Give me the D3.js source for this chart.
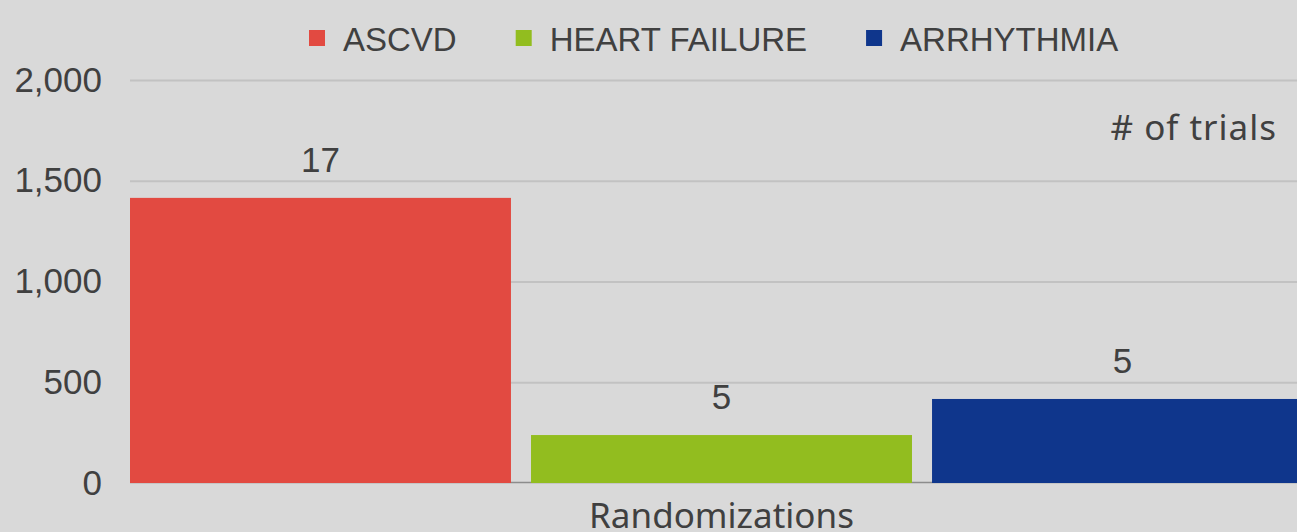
<!DOCTYPE html>
<html>
<head>
<meta charset="utf-8">
<script src="https://cdn.jsdelivr.net/npm/d3@7"></script>
<style>
  html, body { margin: 0; padding: 0; background: #d9d9d9; overflow: hidden; }
  text { fill: #404040; }
</style>
</head>
<body>
<div id="chart"></div>
<script>
const categories = ['Randomizations'];
const series = ['ASCVD', 'HEART FAILURE', 'ARRHYTHMIA'];
const values = [1415, 238, 417];
const trialCounts = ['17', '5', '5'];
const yTicks = [0, 500, 1000, 1500, 2000];
const colors = ['#e24a41', '#92bd1f', '#0f368c'];

const width = 1297;
const height = 532;
const margin = { top: 80, left: 130, bottom: 49 };
const plotRight = 1313;
const plotBottom = height - margin.bottom;

const svg = d3.select('#chart')
    .append('svg')
    .attr('width', width)
    .attr('height', height);

svg.append('rect')
    .attr('width', width)
    .attr('height', height)
    .attr('fill', '#d9d9d9');

const xScale = d3.scaleBand()
    .domain(categories)
    .range([margin.left, plotRight]);

const seriesScale = d3.scaleBand()
    .domain(series)
    .range([0, xScale.bandwidth()])
    .paddingInner(0.05);

const yScale = d3.scaleLinear()
    .domain([0, 2000])
    .range([plotBottom, margin.top]);

const colorScale = d3.scaleOrdinal().domain(series).range(colors);

// gridlines
const yGrid = d3.axisLeft(yScale)
    .tickValues(yTicks.filter(d => d > 0))
    .tickSize(-(width - margin.left))
    .tickFormat('');
svg.append('g')
    .attr('transform', `translate(${margin.left},0)`)
    .call(yGrid)
    .call(g => g.select('.domain').remove())
    .call(g => g.selectAll('line').attr('stroke', '#c2c2c2').attr('stroke-width', 2));

// baseline
svg.append('line')
    .attr('x1', margin.left).attr('x2', width)
    .attr('y1', yScale(0) - 0.5).attr('y2', yScale(0) - 0.5)
    .attr('stroke', '#8c8c8c')
    .attr('stroke-width', 1.5);

// y axis labels
const yAxis = d3.axisLeft(yScale)
    .tickValues(yTicks)
    .tickSize(0)
    .tickPadding(28)
    .tickFormat(d3.format(','));
svg.append('g')
    .attr('transform', `translate(${margin.left},0)`)
    .call(yAxis)
    .call(g => g.select('.domain').remove())
    .call(g => g.selectAll('text')
        .attr('fill', '#404040')
        .style('font-family', '"Liberation Sans", Arial, sans-serif')
        .style('font-size', '35px'));

// bars
const groups = svg.append('g')
    .selectAll('g')
    .data(categories)
    .join('g')
    .attr('transform', d => `translate(${xScale(d)},0)`);

const barData = series.map((s, i) => ({ series: s, value: values[i], label: trialCounts[i] }));

groups.selectAll('rect')
    .data(barData)
    .join('rect')
    .attr('x', d => seriesScale(d.series))
    .attr('y', d => yScale(d.value))
    .attr('width', seriesScale.bandwidth())
    .attr('height', d => yScale(0) - yScale(d.value))
    .attr('fill', d => colorScale(d.series));

groups.selectAll('text.value')
    .data(barData)
    .join('text')
    .classed('value', true)
    .attr('x', d => seriesScale(d.series) + seriesScale.bandwidth() / 2)
    .attr('y', d => yScale(d.value) - 26)
    .attr('text-anchor', 'middle')
    .style('font-family', '"Liberation Sans", Arial, sans-serif')
    .style('font-size', '35px')
    .text(d => d.label);

// category axis
const xAxis = d3.axisBottom(xScale).tickSize(0).tickPadding(20);
svg.append('g')
    .attr('transform', `translate(0,${plotBottom})`)
    .call(xAxis)
    .call(g => g.select('.domain').remove())
    .call(g => g.selectAll('text')
        .attr('fill', '#404040')
        .style('font-family', '"Noto Sans", sans-serif')
        .style('font-size', '35px'));

// annotation
svg.append('text')
    .attr('x', 1277)
    .attr('y', 140)
    .attr('text-anchor', 'end')
    .style('font-family', '"Noto Sans", sans-serif')
    .style('font-size', '35px')
    .style('letter-spacing', '1px')
    .text('# of trials');

// legend
const legend = svg.append('g').attr('transform', 'translate(309,0)');
let lx = 0;
series.forEach((s, i) => {
    const item = legend.append('g').attr('transform', `translate(${lx},0)`);
    item.append('rect')
        .attr('x', 0).attr('y', 30)
        .attr('width', 16).attr('height', 16)
        .attr('fill', colorScale(s));
    const t = item.append('text')
        .attr('x', 34).attr('y', 51)
        .style('font-family', '"Liberation Sans", Arial, sans-serif')
        .style('font-size', '33px')
        .text(s);
    lx += 34 + t.node().getComputedTextLength() + 59;
});
</script>
</body>
</html>
